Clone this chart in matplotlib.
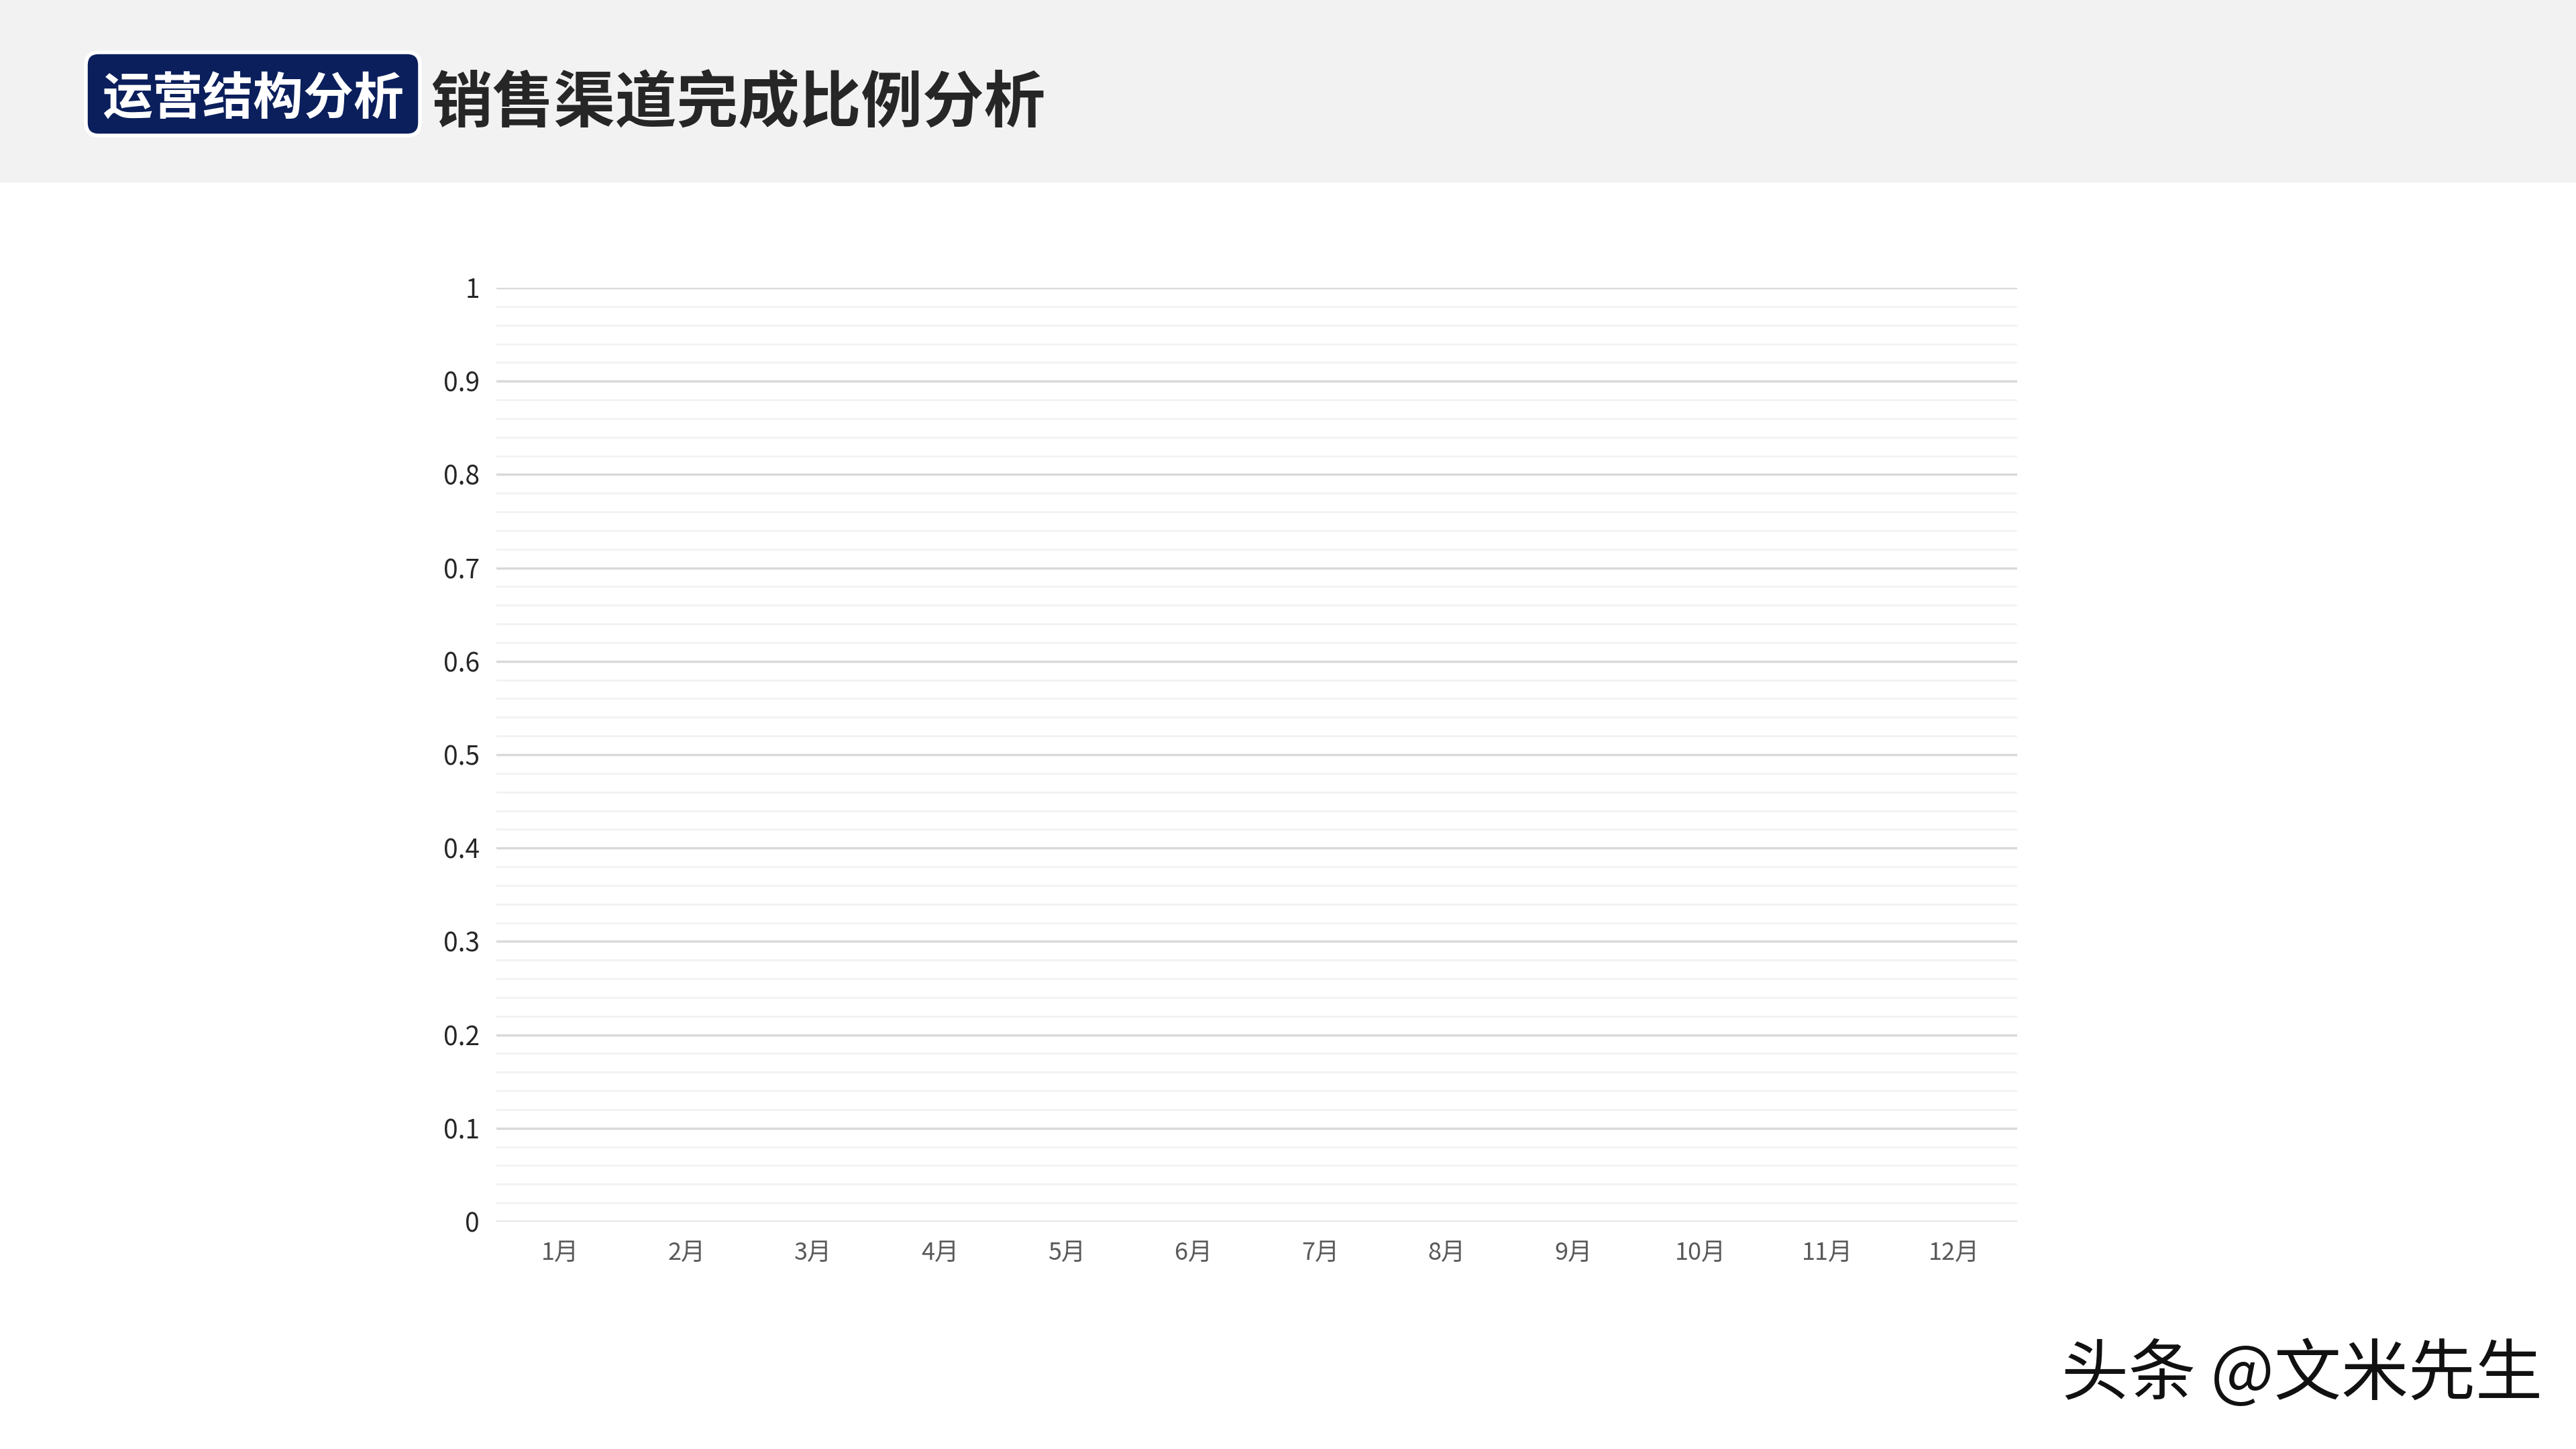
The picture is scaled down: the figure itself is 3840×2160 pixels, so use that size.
import matplotlib.pyplot as plt
import numpy as np
from matplotlib.patches import Rectangle, FancyBboxPatch

plt.rcParams['font.family'] = ['Noto Sans CJK SC', 'DejaVu Sans']

# Data
months = ["1月", "2月", "3月", "4月", "5月", "6月",
          "7月", "8月", "9月", "10月", "11月", "12月"]
y_ticks = [0, 0.1, 0.2, 0.3, 0.4, 0.5, 0.6, 0.7, 0.8, 0.9, 1]
y_tick_labels = ["0", "0.1", "0.2", "0.3", "0.4", "0.5", "0.6", "0.7", "0.8", "0.9", "1"]
badge_text = "运营结构分析"
title_text = "销售渠道完成比例分析"
watermark = "头条 @文米先生"

W, H = 3840, 2160
fig = plt.figure(figsize=(W / 100, H / 100), dpi=100)
fig.patch.set_facecolor("white")

# header band
fig.patches.append(Rectangle((0, 1 - 272 / H), 1, 272 / H, transform=fig.transFigure,
                             facecolor="#f2f2f2", edgecolor="none", zorder=0))
# badge
fig.patches.append(FancyBboxPatch((128 / W, 1 - 202 / H), 498 / W, 124 / H,
                                  boxstyle="round,pad=0,rounding_size=0.005",
                                  transform=fig.transFigure, facecolor="#0b1f5c",
                                  edgecolor="white", linewidth=4, zorder=1,
                                  mutation_aspect=W / H))
fig.text(377 / W, 1 - 148 / H, badge_text, color="white", fontsize=54,
         fontweight="bold", ha="center", va="center")
fig.text(642 / W, 1 - 156 / H, title_text, color="#262626", fontsize=66,
         fontweight="bold", ha="left", va="center")

# axes
ax = fig.add_axes([740 / W, 1 - 1821 / H, (3007 - 740) / W, (1821 - 429) / H])
x = np.arange(len(months))
ax.set_xlim(-0.5, len(months) - 0.5)
ax.set_ylim(0, 1)
ax.set_xticks(x)
ax.set_xticklabels(months, fontsize=26, color="#595959")
ax.set_yticks(y_ticks)
ax.set_yticklabels(y_tick_labels, fontsize=28, color="#262626")
ax.set_yticks(np.arange(0, 1.0001, 0.02), minor=True)
ax.tick_params(axis="both", which="both", length=0)
ax.tick_params(axis="y", pad=18)
ax.tick_params(axis="x", pad=21)
ax.grid(axis="y", which="minor", color="#f2f2f2", linewidth=2)
ax.grid(axis="y", which="major", color="#d9d9d9", linewidth=2.5)
ax.set_axisbelow(True)
for s in ax.spines.values():
    s.set_visible(False)

fig.text(3073 / W, 1 - 2050 / H, watermark, color="#111111", fontsize=72,
         fontweight="medium", ha="left", va="center")

fig.savefig("out.png", dpi=100)
